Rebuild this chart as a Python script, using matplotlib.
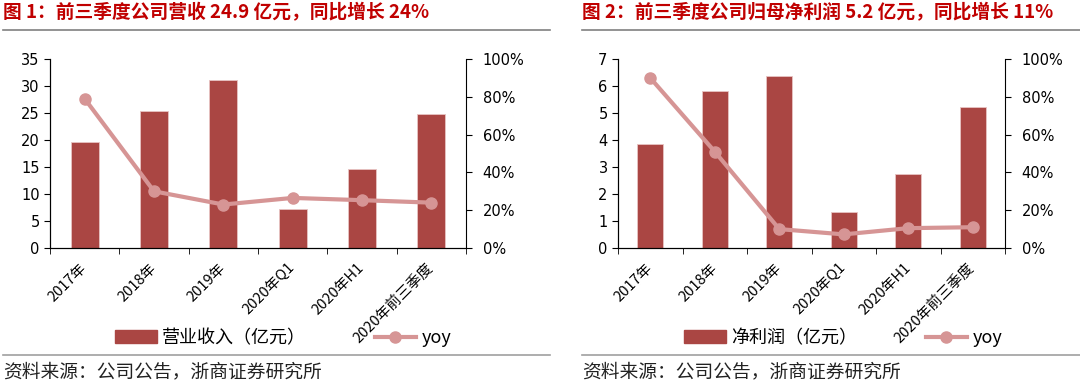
import numpy as np
import matplotlib
matplotlib.use('Agg')
import matplotlib.pyplot as plt
from matplotlib.lines import Line2D
from matplotlib.patches import Patch
from matplotlib.ticker import FuncFormatter, MultipleLocator

plt.rcParams['font.family'] = ['DejaVu Sans', 'Noto Sans CJK SC']

categories = ['2017年', '2018年', '2019年', '2020年Q1', '2020年H1', '2020年前三季度']

# 左图: 营业收入
revenue = [19.6, 25.4, 31.1, 7.2, 14.7, 24.9]
revenue_yoy = [0.79, 0.30, 0.23, 0.265, 0.253, 0.24]

# 右图: 净利润
profit = [3.85, 5.82, 6.36, 1.33, 2.75, 5.23]
profit_yoy = [0.90, 0.51, 0.10, 0.072, 0.105, 0.11]

titles = ['图 1：前三季度公司营收 24.9 亿元，同比增长 24%',
          '图 2：前三季度公司归母净利润 5.2 亿元，同比增长 11%']
bar_labels = ['营业收入（亿元）', '净利润（亿元）']
source = '资料来源：公司公告，浙商证券研究所'

W, H = 1080, 382
bar_color = '#AA4643'
line_color = '#D69595'
title_color = '#C00000'
cjk = ['Noto Sans CJK SC', 'DejaVu Sans']

fig = plt.figure(figsize=(W / 100, H / 100), dpi=100)


def px(x0, y0, x1, y1):
    return [x0 / W, 1 - y1 / H, (x1 - x0) / W, (y1 - y0) / H]


def panel(rect, vals, yoy, ymax, ystep, blabel, leg_x):
    ax = fig.add_axes(px(*rect))
    x = np.arange(len(categories))
    ax.bar(x, vals, width=0.4, color=bar_color, edgecolor='#E8C4C3',
           linewidth=0.6, zorder=2)
    ax.set_xlim(-0.5, len(categories) - 0.5)
    ax.set_ylim(0, ymax)
    ax.yaxis.set_major_locator(MultipleLocator(ystep))
    ax.set_xticks(x)
    ax.set_xticklabels(categories, rotation=45, ha='right', va='center',
                       rotation_mode='anchor', fontsize=10.5, family=cjk)
    ax.set_xticks(np.arange(len(categories) + 1) - 0.5, minor=True)
    ax.tick_params(axis='x', which='major', length=0, pad=13)
    ax.tick_params(axis='x', which='minor', length=4, direction='out')
    ax.tick_params(axis='y', length=4, direction='out', labelsize=10.5)
    ax.spines['top'].set_visible(False)
    ax.spines['right'].set_visible(False)

    ax2 = ax.twinx()
    ax2.plot(x, yoy, color=line_color, lw=3, marker='o', ms=8, zorder=3)
    ax2.set_ylim(0, 1)
    ax2.yaxis.set_major_locator(MultipleLocator(0.2))
    ax2.yaxis.set_major_formatter(FuncFormatter(lambda v, p: '%d%%' % round(v * 100)))
    ax2.tick_params(axis='y', length=4, direction='out', labelsize=10.5, pad=8)
    ax2.spines['top'].set_visible(False)

    handles = [Patch(color=bar_color),
               Line2D([0], [0], color=line_color, lw=3, marker='o', ms=8)]
    fig.legend(handles, [blabel, 'yoy'], loc='center left',
               bbox_to_anchor=(leg_x / W, 1 - 338 / H), ncol=2, frameon=False,
               prop={'family': cjk, 'size': 13}, handlelength=2.3,
               handletextpad=0.3, columnspacing=3.8, borderpad=0)
    return ax


panel((50, 59, 466, 248), revenue, revenue_yoy, 35, 5, bar_labels[0], 106)
panel((618, 59, 1005, 248), profit, profit_yoy, 7, 1, bar_labels[1], 675)

# titles, rules, sources
for x0, x1, t in [(3, 550, titles[0]), (582, 1080, titles[1])]:
    fig.text(x0 / W, 1 - 13 / H, t, color=title_color, fontsize=13.5,
             fontweight='bold', family=cjk, ha='left', va='center')
    fig.add_artist(Line2D([x0 / W, x1 / W], [1 - 30 / H, 1 - 30 / H],
                          color='#808080', lw=1.2))
    fig.add_artist(Line2D([x0 / W, x1 / W], [1 - 355 / H, 1 - 355 / H],
                          color='#A0A0A0', lw=1.2))
    fig.text(x0 / W, 1 - 372 / H, source, fontsize=13.5, family=cjk,
             ha='left', va='center', color='#222222')

fig.savefig('out.png', dpi=100)
